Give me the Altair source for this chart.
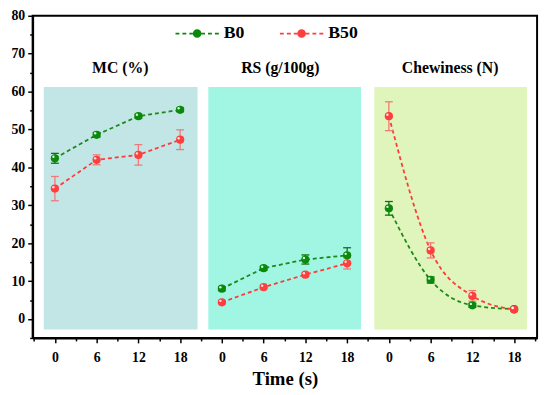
import altair as alt
import pandas as pd

# ---------------- data ----------------
times = [0, 6, 12, 18]
panel_names = ["MC (%)", "RS (g/100g)", "Chewiness (N)"]
panel_offsets = [0, 24, 48]
series_names = ["B0", "B50"]

mc_b0 = [42.4, 48.6, 53.5, 55.2]
mc_b0_err = [1.3, 0.6, 0.5, 0.5]
mc_b50 = [34.4, 42.0, 43.3, 47.3]
mc_b50_err = [3.2, 1.3, 2.7, 2.6]

rs_b0 = [8.0, 13.4, 15.7, 16.8]
rs_b0_err = [0.5, 0.5, 1.2, 2.0]
rs_b50 = [4.4, 8.4, 11.7, 14.7]
rs_b50_err = [0.4, 0.4, 0.5, 1.5]

ch_b0 = [29.2, 10.3, 3.6, 2.6]
ch_b0_err = [1.8, 0.8, 0.5, 0.3]
ch_b50 = [53.5, 18.1, 6.1, 2.5]
ch_b50_err = [3.8, 2.0, 1.4, 0.3]

# background boxes (data coordinates) and panel headings
bg_x0 = [-1.6, 22.05, 45.9]
bg_x1 = [20.5, 44.0, 67.85]
bg_y0 = -2.8
bg_y1 = 61.2
title_x = [9.4, 32.4, 56.8]
title_y = 66.2

# ---------------- styles ----------------
FONT = "Liberation Serif"
pt_colors = ["#0A8A0A", "#FF3E3E"]
line_colors = ["#1B8A1B", "#FF3A3A"]
err_colors = ["#0F6F0F", "#F07A7A"]
bg_colors = ["#C2E6E5", "#A1F5E3", "#E0F5BC"]

values = {
    ("MC (%)", "B0"): (mc_b0, mc_b0_err),
    ("MC (%)", "B50"): (mc_b50, mc_b50_err),
    ("RS (g/100g)", "B0"): (rs_b0, rs_b0_err),
    ("RS (g/100g)", "B50"): (rs_b50, rs_b50_err),
    ("Chewiness (N)", "B0"): (ch_b0, ch_b0_err),
    ("Chewiness (N)", "B50"): (ch_b50, ch_b50_err),
}

rows = []
for p, off in zip(panel_names, panel_offsets):
    for s in series_names:
        vals, errs = values[(p, s)]
        for t, v, e in zip(times, vals, errs):
            rows.append(dict(panel=p, series=s, t=t, x=off + t, y=v, lo=v - e, hi=v + e))
df = pd.DataFrame(rows)

bg = pd.DataFrame({"panel": panel_names, "x0": bg_x0, "x1": bg_x1,
                   "y0": [bg_y0] * 3, "y1": [bg_y1] * 3})
titles = pd.DataFrame({"panel": panel_names, "x": title_x, "y": [title_y] * 3})

# ---------------- scales / axes ----------------
xscale = alt.Scale(domain=[-3.2, 69.3], nice=False, zero=False)
yscale = alt.Scale(domain=[-5, 80], nice=False, zero=False)

xaxis = alt.Axis(
    title="Time (s)",
    values=list(range(-3, 70, 3)),
    labelExpr="datum.value % 6 === 0 ? '' + (datum.value % 24) : ''",
    tickSize={"condition": {"test": "datum.value % 6 === 0", "value": 5}, "value": 3},
    tickWidth=1.5, tickColor="black",
    domainWidth=2, domainColor="black",
    labelFont=FONT, labelFontSize=14, labelFontWeight="bold", labelColor="black",
    labelPadding=8, labelFlush=False, labelOverlap=False,
    titleFont=FONT, titleFontSize=19, titleFontWeight="bold", titleColor="black",
    titlePadding=5, grid=False,
)
yaxis = alt.Axis(
    title=None,
    values=list(range(-5, 81, 5)),
    labelExpr="datum.value % 10 === 0 ? datum.label : ''",
    tickSize={"condition": {"test": "datum.value % 10 === 0", "value": 5}, "value": 3},
    tickWidth=1.5, tickColor="black",
    domainWidth=2, domainColor="black",
    labelFont=FONT, labelFontSize=14, labelFontWeight="bold", labelColor="black",
    labelPadding=3, labelOverlap=False, grid=False,
)

def X(field):
    return alt.X(field, type="quantitative", scale=xscale, axis=xaxis)

def Y(field):
    return alt.Y(field, type="quantitative", scale=yscale, axis=yaxis)

# legend symbol: dashed line with a ball in the middle (unit coordinates)
legend_path = (
    "M-1,-0.04H-0.82V0.04H-1Z M-0.68,-0.04H-0.5V0.04H-0.68Z M-0.36,-0.04H-0.2V0.04H-0.36Z "
    "M0.2,-0.04H0.36V0.04H0.2Z M0.5,-0.04H0.68V0.04H0.5Z M0.82,-0.04H1V0.04H0.82Z "
    "M0.2,0A0.2,0.2 0 1,1 -0.2,0A0.2,0.2 0 1,1 0.2,0Z"
)
legend = alt.Legend(
    orient="none", legendX=145, legendY=-4, direction="horizontal", columns=2,
    title=None, symbolType=legend_path, symbolSize=1936, symbolStrokeWidth=0,
    symbolOpacity=1, labelFont=FONT, labelFontSize=18, labelFontWeight="bold",
    labelColor="black", labelOffset=5, columnPadding=35, padding=0,
)

# ---------------- layers ----------------
bg_layer = alt.Chart(bg).mark_rect().encode(
    x=X("x0"), x2="x1", y=Y("y0"), y2="y1",
    fill=alt.Fill("panel:N", scale=alt.Scale(domain=panel_names, range=bg_colors), legend=None),
)

title_layer = alt.Chart(titles).mark_text(
    font=FONT, fontSize=16, fontWeight="bold", color="black", baseline="middle"
).encode(x=X("x"), y=Y("y"), text="panel:N")

series_layers = []
for s, lc, ec in zip(series_names, line_colors, err_colors):
    base = alt.Chart(df).transform_filter(alt.datum.series == s)
    series_layers.append(
        base.transform_filter(alt.datum.panel != "Chewiness (N)")
        .mark_line(color=lc, strokeDash=[4, 3], strokeWidth=1.8, interpolate="linear")
        .encode(x=X("x"), y=Y("y"), detail="panel:N")
    )
    series_layers.append(
        base.transform_filter(alt.datum.panel == "Chewiness (N)")
        .mark_line(color=lc, strokeDash=[4, 3], strokeWidth=1.8, interpolate="monotone")
        .encode(x=X("x"), y=Y("y"), detail="panel:N")
    )
    series_layers.append(
        base.mark_rule(color=ec, strokeWidth=1.3).encode(x=X("x"), y=Y("lo"), y2="hi")
    )
    series_layers.append(
        base.mark_rule(color=ec, strokeWidth=1.3, xOffset=-4, x2Offset=4)
        .encode(x=X("x"), x2="x", y=Y("lo"))
    )
    series_layers.append(
        base.mark_rule(color=ec, strokeWidth=1.3, xOffset=-4, x2Offset=4)
        .encode(x=X("x"), x2="x", y=Y("hi"))
    )

points = alt.Chart(df).mark_circle(size=70, opacity=1).encode(
    x=X("x"), y=Y("y"),
    color=alt.Color("series:N", scale=alt.Scale(domain=series_names, range=pt_colors), legend=legend),
)
highlight = alt.Chart(df).mark_circle(size=6, color="white", opacity=0.85, xOffset=-1.5, yOffset=-1.5).encode(
    x=X("x"), y=Y("y"))

chart = alt.layer(
    bg_layer, title_layer, *series_layers, points, highlight
).properties(
    width=512, height=327,
    autosize=alt.AutoSizeParams(type="none"),
    padding={"left": 25, "top": 5, "right": 5, "bottom": 55},
).configure_view(stroke="black", strokeWidth=2)

chart.save("out.html", embed_options={"renderer": "svg", "actions": False})
